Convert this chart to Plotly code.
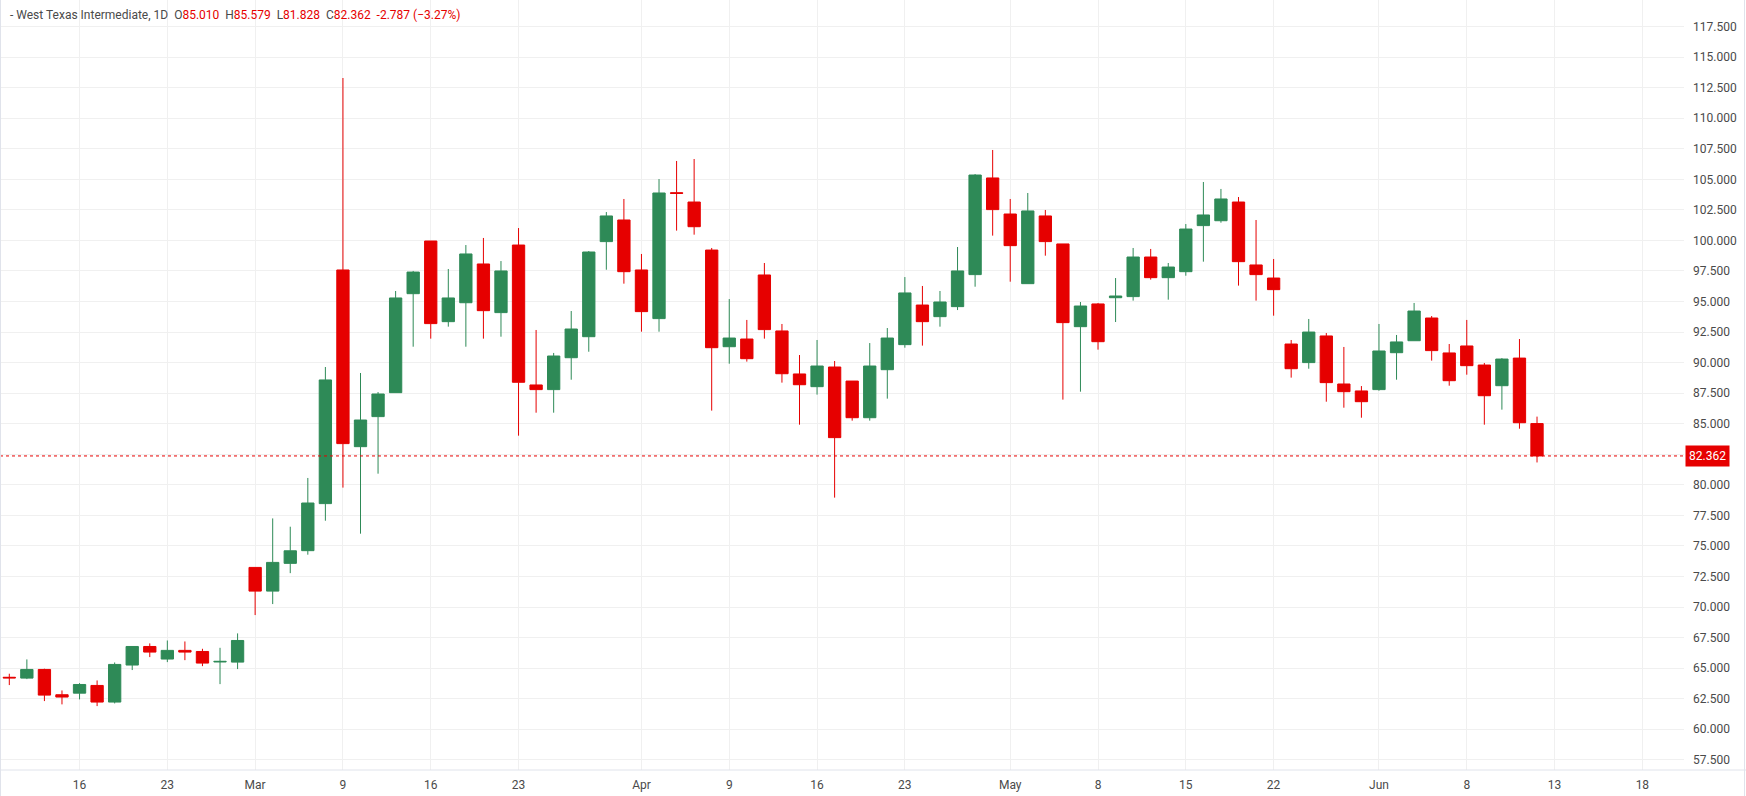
import plotly.graph_objects as go

# Daily OHLC, West Texas Intermediate (trading days 2026-02-10 .. 2026-06-12)
opens = [64.25, 64.18, 64.89, 62.82, 62.95, 63.58, 62.22, 65.25, 66.77, 65.74,
         66.45, 66.36, 65.50, 65.49, 73.24, 71.30, 73.57, 74.61, 78.46, 97.58,
         83.12, 85.58, 87.54, 95.64, 99.95, 93.35, 94.90, 98.07, 94.09, 99.62,
         88.17, 87.79, 90.40, 92.12, 99.90, 101.67, 97.58, 93.60, 103.90, 103.14,
         99.21, 91.30, 91.93, 97.17, 92.59, 89.07, 88.03, 89.64, 88.49, 85.49,
         89.42, 91.47, 94.71, 93.76, 94.58, 97.20, 105.11, 102.16, 96.46, 102.00,
         99.71, 92.94, 94.80, 95.31, 95.40, 98.64, 96.95, 97.44, 101.21, 101.61,
         103.14, 97.99, 96.92, 91.52, 90.00, 92.18, 88.25, 87.68, 87.79, 90.81,
         91.79, 93.65, 90.79, 91.36, 89.80, 88.11, 90.37, 85.010]
highs = [64.54, 65.71, 64.95, 63.17, 63.77, 63.99, 65.46, 66.77, 67.02, 67.26,
         67.18, 66.58, 66.66, 67.84, 73.24, 77.25, 76.57, 80.56, 89.64, 113.29,
         89.15, 87.59, 95.86, 97.50, 99.95, 97.66, 99.62, 100.20, 98.31, 101.01,
         92.67, 90.79, 94.22, 99.13, 102.32, 103.39, 98.89, 105.02, 106.50, 106.66,
         99.38, 95.20, 93.49, 98.15, 93.16, 90.62, 91.85, 90.13, 88.49, 91.60,
         92.83, 97.00, 96.27, 95.86, 99.46, 105.43, 107.40, 103.39, 103.88, 102.49,
         99.71, 94.96, 94.88, 96.92, 99.38, 99.30, 98.15, 101.34, 104.78, 104.21,
         103.55, 101.67, 98.48, 91.85, 93.57, 92.42, 91.28, 88.08, 93.16, 92.26,
         94.88, 93.81, 91.52, 93.49, 89.97, 90.37, 91.93, 85.579]
lows = [63.61, 64.10, 62.30, 62.03, 62.44, 61.89, 62.11, 64.84, 65.90, 65.49,
        65.65, 65.16, 63.69, 64.92, 69.34, 70.24, 72.77, 74.28, 77.06, 79.77,
        76.00, 80.91, 87.54, 91.30, 91.96, 92.94, 91.30, 91.96, 92.12, 84.02,
        85.90, 85.90, 88.60, 90.89, 97.60, 96.46, 92.53, 92.53, 100.80, 100.47,
        86.07, 89.91, 90.08, 91.96, 88.36, 84.92, 87.38, 78.95, 85.25, 85.25,
        87.05, 91.22, 91.39, 92.94, 94.30, 96.21, 100.39, 96.62, 96.46, 98.75,
        86.97, 87.62, 91.06, 93.32, 95.07, 96.79, 95.15, 97.11, 98.26, 101.45,
        96.30, 95.07, 93.84, 88.77, 89.50, 86.80, 86.31, 85.49, 87.70, 88.60,
        91.79, 90.16, 88.11, 89.01, 84.92, 86.15, 84.59, 81.828]
closes = [64.20, 64.89, 62.79, 62.63, 63.66, 62.22, 65.30, 66.77, 66.31, 66.45,
          66.31, 65.41, 65.55, 67.26, 71.30, 73.65, 74.60, 78.51, 88.58, 83.37,
          85.30, 87.43, 95.29, 97.41, 93.19, 95.29, 98.89, 94.25, 97.50, 88.39,
          87.79, 90.54, 92.75, 99.05, 102.00, 97.44, 94.17, 103.88, 103.85, 101.12,
          91.22, 92.01, 90.32, 92.70, 89.09, 88.19, 89.72, 83.86, 85.49, 89.72,
          92.01, 95.70, 93.35, 94.96, 97.50, 105.35, 102.52, 99.57, 102.41, 99.90,
          93.27, 94.63, 91.71, 95.45, 98.64, 96.95, 97.82, 100.93, 102.08, 103.39,
          98.26, 97.20, 95.97, 89.50, 92.50, 88.36, 87.62, 86.80, 90.95, 91.69,
          94.22, 90.98, 88.52, 89.75, 87.29, 90.29, 85.08, 82.362]

# time-axis labels (bar index of the labelled session) and their text
tick_idx = [4, 9, 14, 19, 24, 29, 36, 41, 46, 51, 57, 62, 67, 72, 78, 83, 88, 93]
tick_text = ["16", "23", "Mar", "9", "16", "23", "Apr", "9", "16", "23",
             "May", "8", "15", "22", "Jun", "8", "13", "18"]

# price-scale levels
price_levels = [57.5 + 2.5 * k for k in range(25)]

title_name = "West Texas Intermediate, 1D"
change_abs = "-2.787"
change_pct = "(\u22123.27%)"

UP = "#2e8a57"
DOWN = "#e60000"
GRID = "#f0f0f0"
TXT = "#4a4a4a"
FONT = "Roboto, 'Liberation Sans', sans-serif"

W, H = 1746, 796
PLOT_R = 1684   # right edge of plotting pane (px)
PLOT_B = 770    # bottom of plotting pane (px)

x = list(range(len(opens)))
last_close = closes[-1]

fig = go.Figure()
fig.add_trace(go.Candlestick(
    x=x, open=opens, high=highs, low=lows, close=closes,
    increasing=dict(line=dict(color=UP, width=1), fillcolor=UP),
    decreasing=dict(line=dict(color=DOWN, width=1), fillcolor=DOWN),
    whiskerwidth=0, hoverinfo="skip", showlegend=False,
))

# y-range from pixel geometry: 95 at y=301.5px, 12.22 px per unit
px_per_unit = 12.22
y_top = 95 + 301.5 / px_per_unit
y_bot = 95 - (PLOT_B - 301.5) / px_per_unit
x_left = -9.3 / 17.56
x_right = (PLOT_R - 9.3) / 17.56

# hide the scale label hidden under the last-price badge (grid line kept)
price_text = ["" if abs(v - last_close) < 1.2 else f"{v:.3f}" for v in price_levels]

fig.update_layout(
    width=W, height=H,
    margin=dict(l=0, r=W - PLOT_R, t=0, b=H - PLOT_B),
    paper_bgcolor="white", plot_bgcolor="white",
    font=dict(family=FONT, size=12, color=TXT),
    boxgap=0.3, boxgroupgap=0,
    showlegend=False,
    xaxis=dict(
        range=[x_left, x_right], rangeslider=dict(visible=False),
        tickmode="array", tickvals=tick_idx, ticktext=tick_text,
        showgrid=True, gridcolor=GRID, gridwidth=1,
        zeroline=False, showline=False, ticks="",
        tickfont=dict(size=12, color=TXT), ticklabelstandoff=6,
        fixedrange=True,
    ),
    yaxis=dict(
        side="right", range=[y_bot, y_top],
        tickmode="array", tickvals=price_levels, ticktext=price_text,
        showgrid=True, gridcolor=GRID, gridwidth=1,
        zeroline=False, showline=False, ticks="",
        tickfont=dict(size=12, color=TXT), ticklabelstandoff=8,
        fixedrange=True,
    ),
)

# last price dotted line
fig.add_shape(type="line", xref="paper", yref="y", x0=0, x1=1, y0=last_close, y1=last_close,
              line=dict(color=DOWN, width=1, dash="dot"), layer="above")

# bottom time-scale border and pane borders
fig.add_shape(type="line", xref="paper", yref="paper", x0=0, x1=W / PLOT_R, y0=0, y1=0,
              line=dict(color="#e0e3eb", width=1), layer="above")
fig.add_shape(type="line", xref="paper", yref="paper", x0=(W - 1.5) / PLOT_R, x1=(W - 1.5) / PLOT_R,
              y0=-(H - PLOT_B) / PLOT_B, y1=1, line=dict(color="#e0e3eb", width=1), layer="above")
fig.add_shape(type="line", xref="paper", yref="paper", x0=0.5 / PLOT_R, x1=0.5 / PLOT_R,
              y0=-(H - PLOT_B) / PLOT_B, y1=1, line=dict(color="#e0e3eb", width=1), layer="above")

# last price label on the price scale
fig.add_annotation(
    xref="paper", yref="y", x=1685 / PLOT_R, y=last_close, xanchor="left", yanchor="middle",
    text=f"{last_close:.3f}", showarrow=False, bgcolor=DOWN,
    font=dict(family=FONT, size=12, color="white"), borderpad=3,
)

# legend / title line
sp = "\u00a0\u00a0"
def gray(t):
    return f"<span style='color:{TXT}'>{t}</span>"
def red(t):
    return f"<span style='color:{DOWN}'>{t}</span>"
title = (gray("-\u00a0" + title_name) + sp +
         gray("O") + red(f"{opens[-1]:.3f}") + sp +
         gray("H") + red(f"{highs[-1]:.3f}") + sp +
         gray("L") + red(f"{lows[-1]:.3f}") + sp +
         gray("C") + red(f"{closes[-1]:.3f}") + sp +
         red(change_abs + "\u00a0" + change_pct))
fig.add_annotation(
    xref="paper", yref="paper", x=8 / PLOT_R, y=1 - 15.5 / PLOT_B,
    xanchor="left", yanchor="middle", text=title, showarrow=False,
    font=dict(family=FONT, size=12, color=TXT), align="left",
)

fig.write_html("out.html", config=dict(displayModeBar=False, staticPlot=True))
